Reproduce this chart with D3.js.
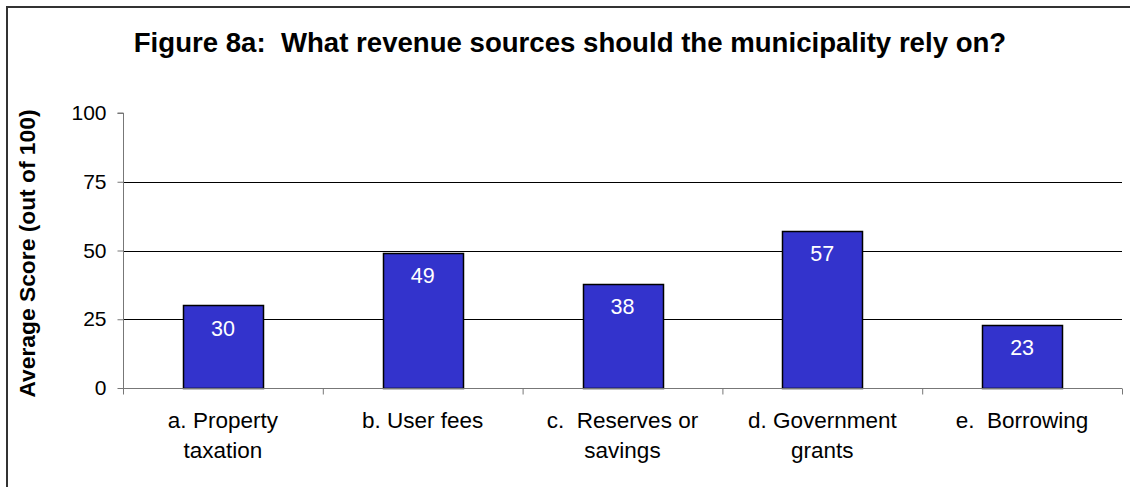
<!DOCTYPE html>
<html><head><meta charset="utf-8">
<script src="https://cdn.jsdelivr.net/npm/d3@7"></script>
<style>html,body{margin:0;background:#fff;overflow:hidden}svg{display:block;font-family:"Liberation Sans",Arial,sans-serif}</style>
</head><body><svg id="c" width="1130" height="487"></svg>
<script>
const categories = [["a. Property","taxation"],["b. User fees"],["c.\u00a0\u00a0Reserves or","savings"],["d. Government","grants"],["e.\u00a0\u00a0Borrowing"]];
const values = [30,49,38,57,23];
const yTicks = [0,25,50,75,100];
const title = "Figure 8a:\u00a0\u00a0What revenue sources should the municipality rely on?";
const yLabel = "Average Score (out of 100)";

const svg = d3.select("#c");
svg.append("rect").attr("x",7).attr("y",7).attr("width",1200).attr("height",600)
  .attr("fill","none").attr("stroke","#333").attr("stroke-width",2);

const L=123, R=1122, T=113, B=388;
const x = d3.scaleBand().domain(d3.range(values.length)).range([L,R]).paddingInner(0.6).paddingOuter(0.3);
const y = d3.scaleLinear().domain([0,100]).range([B,T]);

// gridlines
svg.append("g").selectAll("line").data(yTicks.filter(t=>t>0&&t<100)).join("line")
  .attr("x1",L).attr("x2",R).attr("y1",d=>Math.round(y(d))+0.5).attr("y2",d=>Math.round(y(d))+0.5)
  .attr("stroke","#000").attr("stroke-width",1);

// bars
svg.append("g").selectAll("rect").data(values).join("rect")
  .attr("x",(d,i)=>Math.round(x(i))+0.5).attr("width",Math.round(x.bandwidth()))
  .attr("y",d=>Math.round(y(d))+0.5).attr("height",d=>B-Math.round(y(d)))
  .attr("fill","#3333CC").attr("stroke","#000").attr("stroke-width",1.5);

// value labels
svg.append("g").selectAll("text").data(values).join("text")
  .attr("x",(d,i)=>x(i)+x.bandwidth()/2).attr("y",d=>y(d)+30)
  .attr("text-anchor","middle").attr("fill","#fff").attr("font-size",21.5).text(d=>d);

// y axis
const yAxis = d3.axisLeft(y).tickValues(yTicks).tickSize(6).tickPadding(11);
const gy = svg.append("g").attr("transform",`translate(${L+0.5},0)`).call(yAxis);
gy.select(".domain").attr("stroke","#777").attr("d",`M-6,${T}H0V${B+6}`);
gy.selectAll(".tick line").attr("stroke","#777");
gy.selectAll(".tick text").attr("font-size",21).attr("fill","#000").attr("font-family","Liberation Sans, Arial, sans-serif");

// x axis
const xb = d3.scaleLinear().domain([0,values.length]).range([L,R]);
const xAxis = d3.axisBottom(xb).tickValues(d3.range(values.length+1)).tickSize(6).tickFormat("");
const gx = svg.append("g").attr("transform",`translate(0,${B+0.5})`).call(xAxis);
gx.select(".domain").attr("stroke","#777").attr("d",`M${L},0H${R}`);
gx.selectAll(".tick line").attr("stroke","#777");

// category labels
const cl = svg.append("g").selectAll("text").data(categories).join("text")
  .attr("x",(d,i)=>x(i)+x.bandwidth()/2).attr("y",428)
  .attr("text-anchor","middle").attr("font-size",22.5).attr("fill","#000");
cl.selectAll("tspan").data(d=>d).join("tspan")
  .attr("x",function(){return this.parentNode.getAttribute("x");})
  .attr("dy",(d,i)=>i===0?0:30).text(d=>d);

// title
svg.append("text").attr("x",570).attr("y",52).attr("text-anchor","middle")
  .attr("font-size",27.6).attr("font-weight","bold").text(title);

// y label
svg.append("text").attr("transform","translate(35,253.5) rotate(-90)").attr("text-anchor","middle")
  .attr("font-size",22.8).attr("font-weight","bold").text(yLabel);
</script></body></html>
